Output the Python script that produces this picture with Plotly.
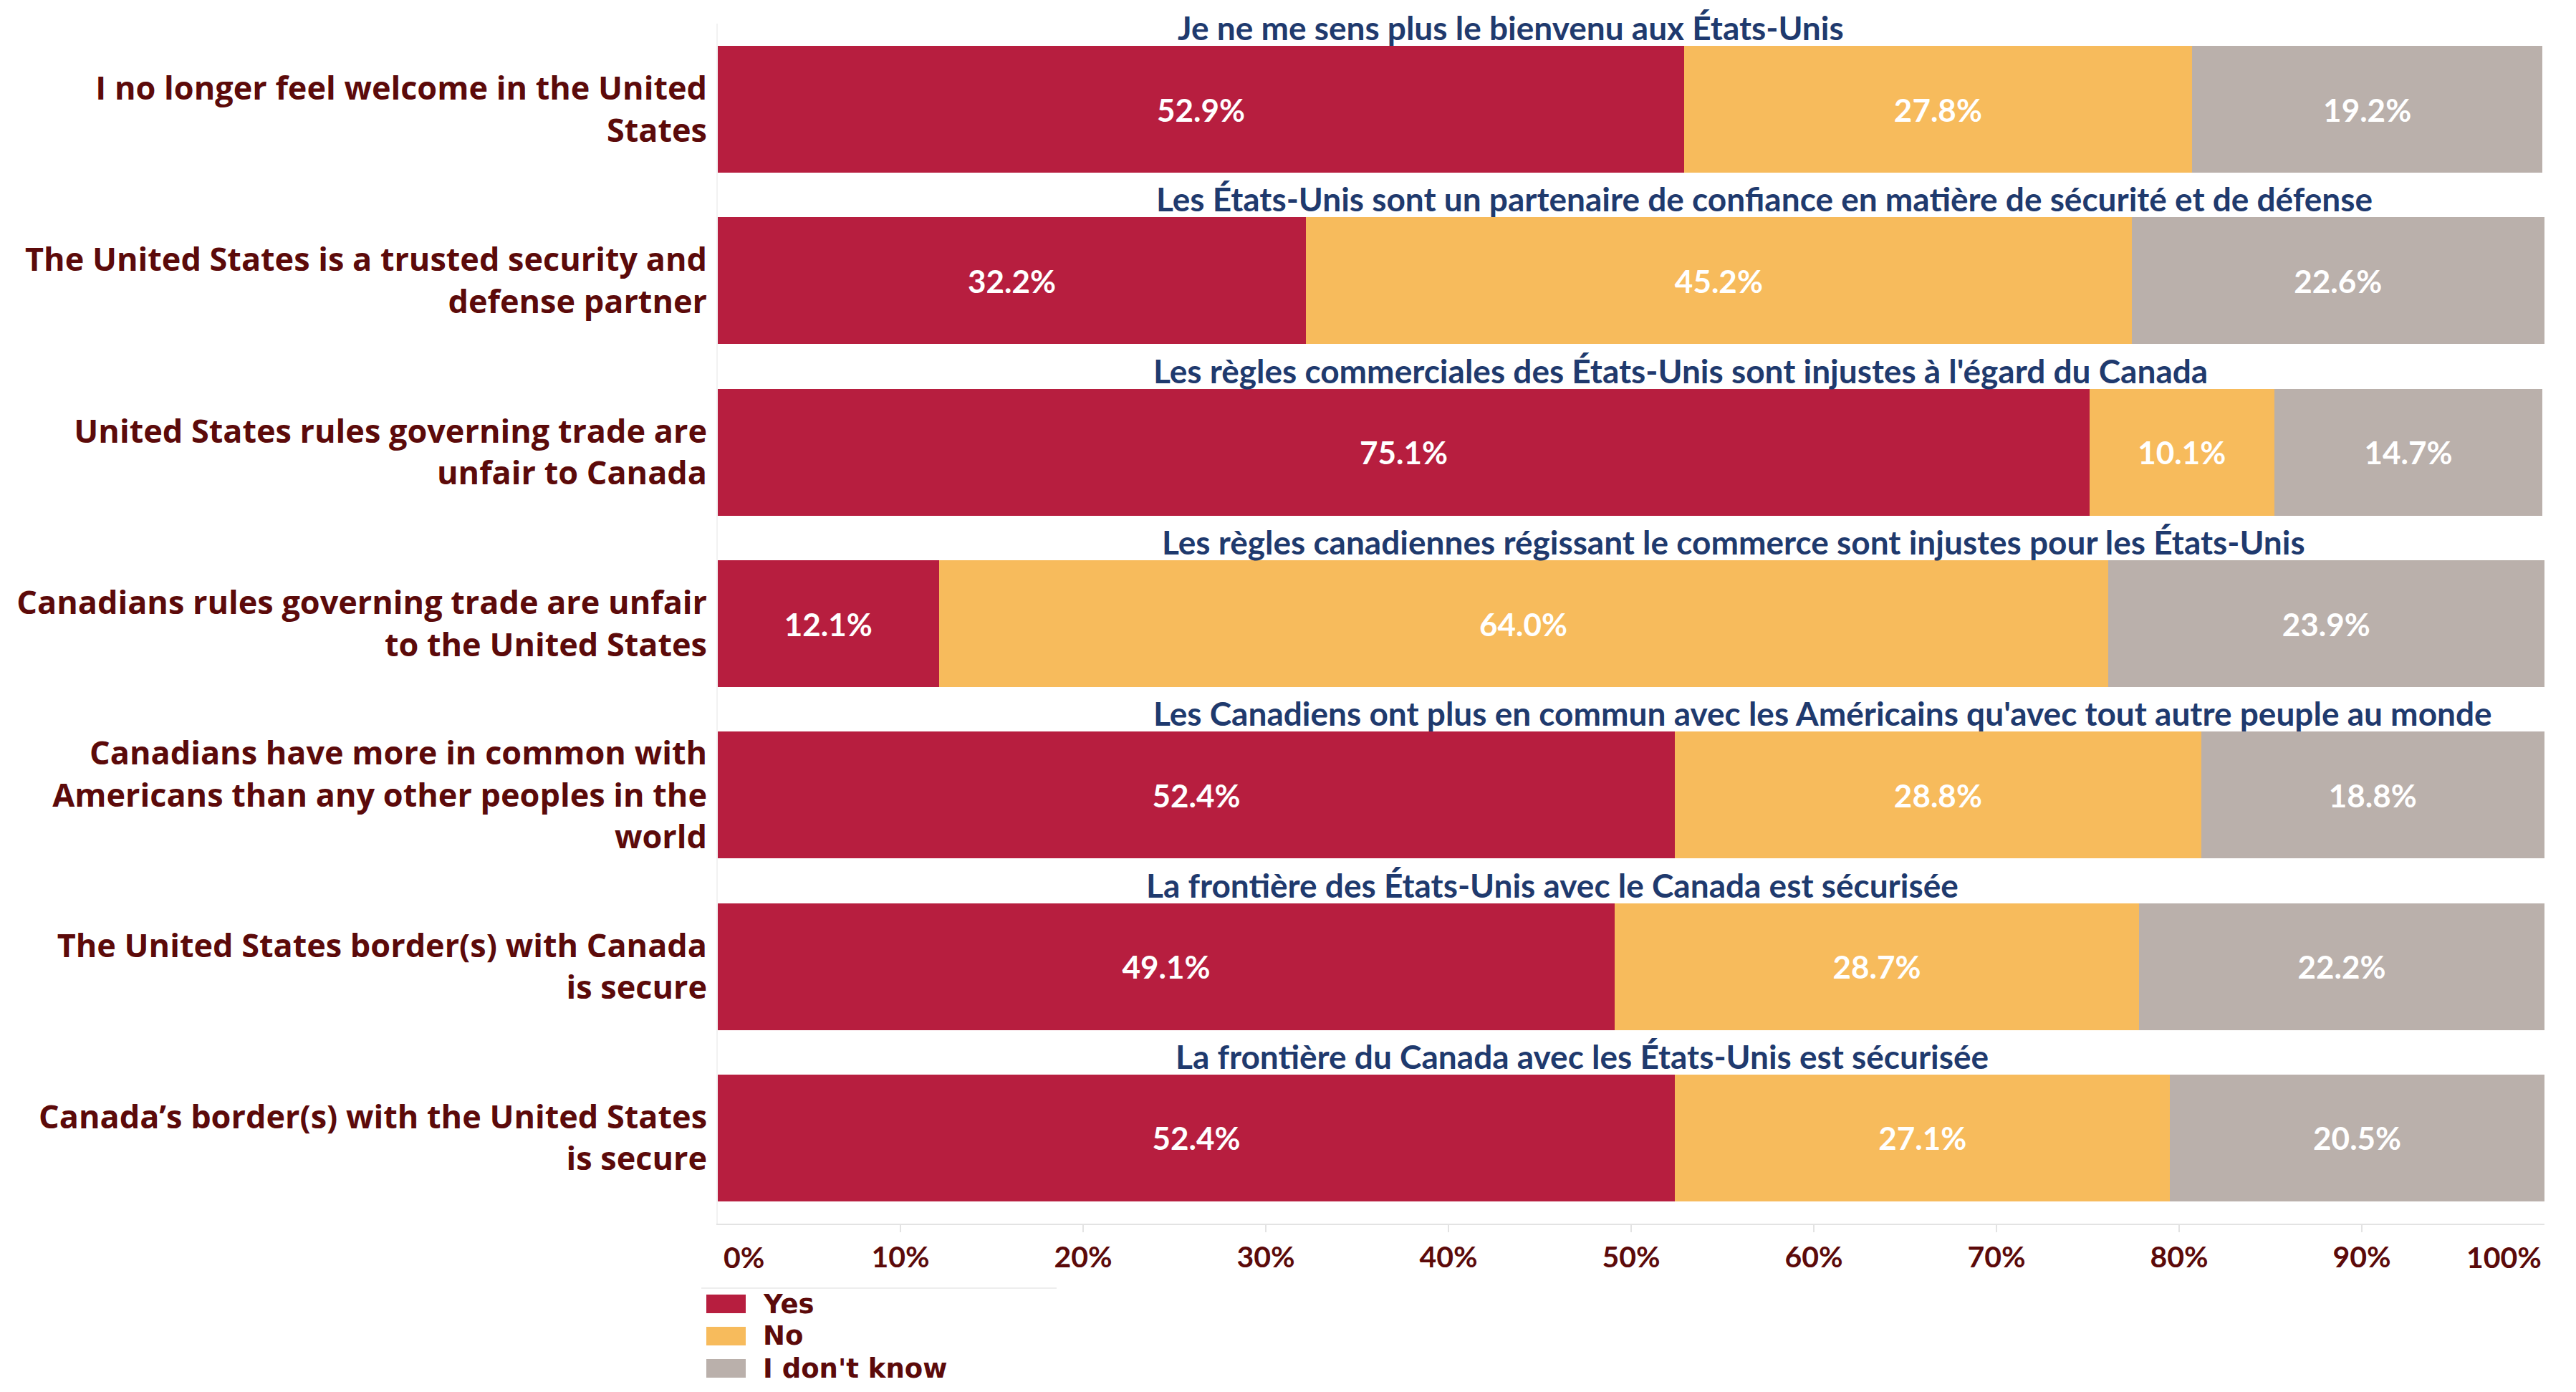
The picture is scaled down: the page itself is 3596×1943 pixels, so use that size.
import plotly.graph_objects as go

# ---- data ----
categories_en = [
    "I no longer feel welcome in the United<br>States",
    "The United States is a trusted security and<br>defense partner",
    "United States rules governing trade are<br>unfair to Canada",
    "Canadians rules governing trade are unfair<br>to the United States",
    "Canadians have more in common with<br>Americans than any other peoples in the<br>world",
    "The United States border(s) with Canada<br>is secure",
    "Canada’s border(s) with the United States<br>is secure",
]
categories_fr = [
    "Je ne me sens plus le bienvenu aux États-Unis",
    "Les États-Unis sont un partenaire de confiance en matière de sécurité et de défense",
    "Les règles commerciales des États-Unis sont injustes à l'égard du Canada",
    "Les règles canadiennes régissant le commerce sont injustes pour les États-Unis",
    "Les Canadiens ont plus en commun avec les Américains qu'avec tout autre peuple au monde",
    "La frontière des États-Unis avec le Canada est sécurisée",
    "La frontière du Canada avec les États-Unis est sécurisée",
]
yes_vals = [52.9, 32.2, 75.1, 12.1, 52.4, 49.1, 52.4]
no_vals = [27.8, 45.2, 10.1, 64.0, 28.8, 28.7, 27.1]
dk_vals = [19.2, 22.6, 14.7, 23.9, 18.8, 22.2, 20.5]
series_names = ["Yes", "No", "I don't know"]
tick_vals = [0, 10, 20, 30, 40, 50, 60, 70, 80, 90, 100]
tick_labels = ["0%", "10%", "20%", "30%", "40%", "50%", "60%", "70%", "80%", "90%", "100%"]

# ---- styling (layout only) ----
colors = ["#B71E3F", "#F7BB5C", "#BAB0AB"]
label_color = "#5C0A0A"
fr_color = "#1F3A6E"
fr_title_x = [43.4, 57.3, 52.7, 55.6, 60.5, 45.7, 47.3]  # title centres (in % axis units)

W, H = 3580, 1927
ML, MR, MT, MB = 994, 36, 25, 227
PW, PH = W - ML - MR, H - MT - MB


def px_x(px):  # figure pixel -> paper x
    return (px - ML) / PW


def px_y(py):  # figure pixel (from top) -> paper y
    return (H - MB - py) / PH


fig = go.Figure()
for name, vals, col in zip(series_names, [yes_vals, no_vals, dk_vals], colors):
    fig.add_trace(go.Bar(
        name=name,
        y=categories_en,
        x=vals,
        orientation="h",
        marker=dict(color=col, line=dict(width=0)),
        text=[f"{v:.1f}%" for v in vals],
        textposition="inside",
        insidetextanchor="middle",
        textfont=dict(family="Lato", size=44, color="white", weight="bold"),
        constraintext="none",
        hoverinfo="skip",
        showlegend=False,
    ))

annotations = []
for cat, fr, fx in zip(categories_en, categories_fr, fr_title_x):
    annotations.append(dict(
        x=fx, y=cat, xref="x", yref="y", text=fr, showarrow=False,
        xanchor="center", yanchor="middle", yshift=114,
        font=dict(family="Lato", size=46, color=fr_color, weight="bold"),
    ))
# end tick labels aligned inward (as in the original)
tick_font = dict(family="Lato", size=41, color=label_color, weight="bold")
annotations.append(dict(x=tick_vals[0], y=0, xref="x", yref="paper", text=tick_labels[0],
                        showarrow=False, xanchor="left", yanchor="middle", yshift=-46, xshift=6,
                        font=tick_font))
annotations.append(dict(x=tick_vals[-1], y=0, xref="x", yref="paper", text=tick_labels[-1],
                        showarrow=False, xanchor="right", yanchor="middle", yshift=-46, xshift=-2,
                        font=tick_font))

# legend (drawn as swatches + text, like the original's large square keys)
shapes = [dict(type="line", xref="paper", yref="paper", x0=px_x(971), x1=px_x(1467),
               y0=px_y(1790), y1=px_y(1790), line=dict(color="#EDEDED", width=2))]
row_y = [1812, 1857, 1902]
for name, col, ry in zip(series_names, colors, row_y):
    shapes.append(dict(type="rect", xref="paper", yref="paper",
                       x0=px_x(978), x1=px_x(1033), y0=px_y(ry - 13), y1=px_y(ry + 13),
                       fillcolor=col, line=dict(width=0)))
    annotations.append(dict(x=px_x(1055), y=px_y(ry), xref="paper", yref="paper", text=name,
                            showarrow=False, xanchor="left", yanchor="middle",
                            font=dict(family="DejaVu Sans", size=37, color=label_color,
                                      weight="bold")))

fig.update_layout(
    barmode="stack",
    bargap=0.26,
    width=W, height=H,
    margin=dict(l=ML, r=MR, t=MT, b=MB, autoexpand=False),
    paper_bgcolor="white", plot_bgcolor="white",
    showlegend=False,
    annotations=annotations,
    shapes=shapes,
)
fig.update_xaxes(
    range=[0, 100],
    tickvals=tick_vals[1:-1], ticktext=tick_labels[1:-1],
    tickfont=tick_font,
    showgrid=False, zeroline=False,
    showline=True, linecolor="#E3E3E3", linewidth=2,
    ticks="outside", ticklen=10, tickcolor="#E3E3E3", tickwidth=2,
    ticklabelstandoff=0,
)
fig.update_yaxes(
    categoryorder="array", categoryarray=categories_en,
    range=[len(categories_en) - 0.5, -0.5], autorange=False,
    tickfont=dict(family="Open Sans", size=45, color=label_color, weight="bold"),
    showgrid=False, zeroline=False,
    showline=True, linecolor="#F2F2F2", linewidth=2,
    ticks="", ticklabelstandoff=4,
)

fig.write_html("out.html")
